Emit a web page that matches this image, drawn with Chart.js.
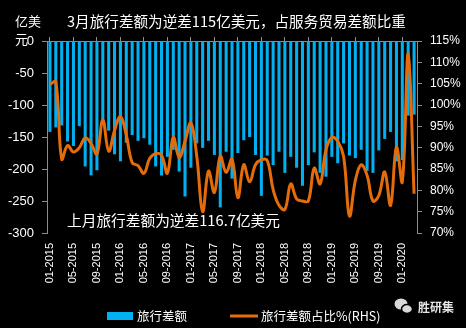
<!DOCTYPE html>
<html>
<head>
<meta charset="utf-8">
<script src="https://cdn.jsdelivr.net/npm/chart.js@4.4.1/dist/chart.umd.min.js"></script>
<style>
  html, body { margin: 0; padding: 0; background: #000; }
</style>
</head>
<body>
<canvas id="travelChart" width="466" height="328"></canvas>
<script>
const months = [
  "01-2015","02-2015","03-2015","04-2015","05-2015","06-2015","07-2015","08-2015","09-2015","10-2015","11-2015","12-2015",
  "01-2016","02-2016","03-2016","04-2016","05-2016","06-2016","07-2016","08-2016","09-2016","10-2016","11-2016","12-2016",
  "01-2017","02-2017","03-2017","04-2017","05-2017","06-2017","07-2017","08-2017","09-2017","10-2017","11-2017","12-2017",
  "01-2018","02-2018","03-2018","04-2018","05-2018","06-2018","07-2018","08-2018","09-2018","10-2018","11-2018","12-2018",
  "01-2019","02-2019","03-2019","04-2019","05-2019","06-2019","07-2019","08-2019","09-2019","10-2019","11-2019","12-2019",
  "01-2020","02-2020","03-2020"
];

// 旅行差额, 亿美元
const travelBalance = [
  -142, -135, -132, -157, -164, -133, -196, -210, -202, -125, -140, -177,
  -188, -159, -147, -156, -152, -162, -196, -210, -181, -170, -204, -243,
  -198, -160, -167, -156, -178, -260, -173, -215, -175, -155, -150, -178,
  -242, -179, -194, -173, -206, -181, -198, -226, -194, -174, -206, -212,
  -181, -191, -160, -179, -183, -170, -203, -206, -171, -153, -142, -188,
  -186, -116.7, -115
];

// 旅行差额占服务贸易差额比重, %
const travelShare = [
  104.8, 105.5, 87.3, 90.5, 89.0, 90.0, 92.3, 91.0, 88.5, 96.5, 89.2, 94.0,
  97.3, 93.0, 86.5, 85.8, 84.0, 87.5, 88.6, 88.2, 84.0, 92.4, 87.7, 91.5,
  95.8, 88.0, 75.0, 84.5, 79.5, 88.0, 84.2, 87.3, 78.3, 86.0, 82.0, 86.0,
  87.2, 87.0, 80.2, 76.5, 75.5, 81.5, 78.0, 77.5, 77.5, 85.2, 81.5, 89.5,
  92.4, 91.5, 88.0, 74.0, 82.3, 86.0, 83.5, 77.5, 78.8, 84.3, 76.5, 90.1,
  82.0, 112.0, 79.2
];

const title = "3月旅行差额为逆差115亿美元，占服务贸易差额比重";
const note = "上月旅行差额为逆差116.7亿美元";
const brand = "胜研集";

const cjk = '"Noto Sans CJK SC", sans-serif';
const latin = '"Liberation Sans", Arial, sans-serif';
const axisGray = "#8c8c8c";

const extras = {
  id: "extras",
  beforeDraw(chart) {
    const c = chart.ctx;
    c.save();
    c.fillStyle = "#000";
    c.fillRect(0, 0, chart.width, chart.height);
    c.restore();
  },
  afterDraw(chart) {
    const c = chart.ctx;
    c.save();
    c.fillStyle = "#fff";
    c.textBaseline = "middle";
    c.textAlign = "left";

    // title
    c.font = "14.6px " + cjk;
    c.fillText(title, 67, 21);

    // unit
    c.font = "13px " + cjk;
    c.fillText("亿美", 15, 21);
    c.fillText("元", 15, 39);

    // note
    c.font = "14.7px " + cjk;
    c.fillText(note, 67, 220);

    // legend
    const ds = chart.data.datasets;
    const bar = ds[1], line = ds[0];
    c.fillStyle = bar.backgroundColor;
    c.fillRect(107, 312, 26, 8);
    c.fillStyle = "#fff";
    c.font = "12.5px " + cjk;
    c.fillText(bar.label, 137, 316);
    c.strokeStyle = line.borderColor;
    c.lineWidth = 3;
    c.beginPath();
    c.moveTo(230, 316);
    c.lineTo(258, 316);
    c.stroke();
    c.fillText(line.label, 261, 316);

    // brand mark
    c.fillStyle = "#d9d9d9";
    c.beginPath();
    c.ellipse(401, 304, 6.5, 5.5, 0, 0, Math.PI * 2);
    c.fill();
    c.strokeStyle = "#000";
    c.lineWidth = 1.5;
    c.beginPath();
    c.ellipse(407, 309, 5.5, 4.5, 0, 0, Math.PI * 2);
    c.fill();
    c.stroke();
    c.fillStyle = "#e6e6e6";
    c.font = "bold 12px " + cjk;
    c.fillText(brand, 418, 307);
    c.restore();
  }
};

new Chart(document.getElementById("travelChart"), {
  type: "bar",
  data: {
    labels: months,
    datasets: [
      {
        type: "line",
        label: "旅行差额占比%(RHS)",
        data: travelShare,
        yAxisID: "y1",
        borderColor: "#e46c0a",
        borderWidth: 3,
        pointRadius: 0,
        tension: 0.4,
        order: 0
      },
      {
        type: "bar",
        label: "旅行差额",
        data: travelBalance,
        yAxisID: "y",
        backgroundColor: "#00b0f0",
        categoryPercentage: 1,
        barPercentage: 0.52,
        order: 1
      }
    ]
  },
  options: {
    responsive: false,
    animation: false,
    devicePixelRatio: 1,
    layout: { padding: 0 },
    plugins: {
      legend: { display: false },
      tooltip: { enabled: false }
    },
    scales: {
      x: {
        position: "bottom",
        grid: { display: false, drawTicks: false },
        border: { display: false },
        ticks: {
          color: "#fff",
          font: { family: latin, size: 11 },
          autoSkip: false,
          minRotation: 90,
          maxRotation: 90,
          padding: 10,
          callback: (v, i) => (i % 4 === 0 ? months[i] : "")
        },
        afterFit: (s) => { s.height = 95; }
      },
      x2: {
        type: "category",
        position: "top",
        offset: true,
        grid: {
          offset: false,
          drawOnChartArea: false,
          tickLength: 4,
          color: (ctx) => (ctx.index % 4 === 0 ? axisGray : "rgba(0,0,0,0)")
        },
        border: { color: axisGray, width: 1 },
        ticks: { display: false, autoSkip: false },
        afterFit: (s) => { s.height = 41; }
      },
      y: {
        position: "left",
        min: -300,
        max: 0,
        ticks: {
          stepSize: 50,
          color: "#fff",
          padding: 8,
          font: { family: latin, size: 13 }
        },
        grid: { drawOnChartArea: false, color: axisGray, tickLength: 5 },
        border: { color: axisGray },
        afterFit: (s) => { s.width = 47; }
      },
      y1: {
        position: "right",
        min: 70,
        max: 115,
        ticks: {
          stepSize: 5,
          color: "#fff",
          padding: 8,
          font: { family: latin, size: 12 },
          callback: (v) => v + "%"
        },
        grid: { drawOnChartArea: false, color: axisGray, tickLength: 5 },
        border: { color: axisGray },
        afterFit: (s) => { s.width = 49; }
      }
    }
  },
  plugins: [extras]
});
</script>
</body>
</html>
